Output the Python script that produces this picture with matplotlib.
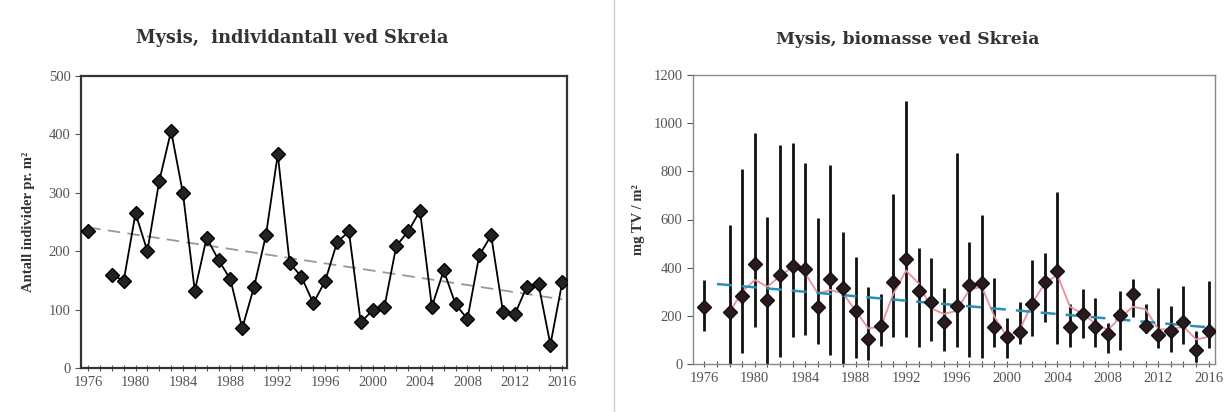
import numpy as np
import matplotlib
matplotlib.use("Agg")
import matplotlib.pyplot as plt
from matplotlib.lines import Line2D

# ---------------------------------------------------------
# Data
# ---------------------------------------------------------
years = np.arange(1976, 2017)

# individuals per m2 (1977 missing)
antall = [234, np.nan, 160, 149, 265, 200, 320, 406, 299, 132,
          223, 185, 152, 68, 139, 227, 366, 180, 156, 111,
          149, 215, 234, 78, 99, 105, 209, 234, 269, 105,
          167, 109, 84, 193, 227, 96, 92, 139, 143, 40, 147]

# biomass mg TV / m2, with low / high range (1977 missing)
biomasse = [235, np.nan, 215, 284, 415, 266, 370, 407, 396, 238,
            353, 317, 221, 102, 159, 339, 436, 304, 256, 176,
            241, 328, 338, 155, 111, 131, 249, 342, 386, 155,
            208, 152, 125, 203, 289, 159, 119, 138, 176, 58, 137]
bio_low = [138, np.nan, 0, 44, 155, 0, 30, 113, 120, 83,
           37, 0, 24, 17, 75, 113, 113, 72, 95, 55,
           69, 30, 24, 69, 26, 83, 116, 173, 83, 72,
           109, 69, 44, 58, 197, 127, 65, 48, 83, 10, 65]
bio_high = [350, np.nan, 577, 810, 960, 612, 909, 916, 833, 605,
            826, 549, 446, 321, 289, 706, 1093, 480, 439, 314,
            875, 508, 619, 356, 190, 259, 432, 460, 716, 249,
            311, 273, 169, 304, 352, 249, 314, 242, 324, 138, 346]

# pink smoothed series (starts 1978)
glatt = [np.nan, np.nan, 215, 300, 349, 321, 365, 404, 376, 293,
         307, 293, 221, 148, 155, 293, 388, 335, 231, 208,
         221, 307, 321, 197, 113, 141, 252, 335, 370, 238,
         208, 169, 141, 194, 238, 227, 144, 144, 155, 102, 113]

antall = np.array(antall, dtype=float)
biomasse = np.array(biomasse, dtype=float)
bio_low = np.array(bio_low, dtype=float)
bio_high = np.array(bio_high, dtype=float)
glatt = np.array(glatt, dtype=float)

serif = ["Liberation Serif", "DejaVu Serif"]
title_font = ["DejaVu Serif"]
plt.rcParams["font.family"] = serif

fig = plt.figure(figsize=(12.28, 4.12), dpi=100)
fig.add_artist(Line2D([0.5, 0.5], [0.0, 1.0], color="#cccccc", lw=1.0))

def style_axis(ax, xlim, spine_col, spine_lw):
    ax.set_xlim(*xlim)
    ax.set_xticks(np.arange(1976, 2017, 4))
    ax.set_xticks(years, minor=True)
    ax.tick_params(axis="x", which="both", direction="inout", length=5,
                   width=0.8, color="#555555", labelsize=10.5, labelcolor="#555555", pad=3)
    ax.tick_params(axis="y", which="major", direction="out", length=4,
                   width=0.8, color="#555555", labelsize=10.5, labelcolor="#555555")
    for s in ax.spines.values():
        s.set_color(spine_col)
        s.set_linewidth(spine_lw)

# ------------------------------
# Left: number of individuals
# ------------------------------
ax1 = fig.add_axes([81 / 1228, 44 / 412, 486 / 1228, 292 / 412])
ax1.plot(years, antall, color="black", lw=1.3, marker="D", ms=7,
         mfc="#222222", mec="black", zorder=3)
ok = ~np.isnan(antall)
k1, m1 = np.polyfit(years[ok], antall[ok], 1)
ax1.plot(years, k1 * years + m1, color="#999999", lw=1.3, ls=(0, (7, 4)), zorder=2)
ax1.set_ylim(0, 500)
ax1.set_yticks(range(0, 501, 100))
style_axis(ax1, (1975.4, 2016.4), "#333333", 1.6)
ax1.set_ylabel("Antall individer pr. m²", fontsize=10.5, fontweight="bold",
               color="#333333", labelpad=10)
fig.text(292 / 1228, 1 - 38 / 412, "Mysis,  individantall ved Skreia", fontsize=12.8,
         family=title_font, fontweight="bold", color="#333333", ha="center", va="center")

# ------------------------------
# Right: biomass
# ------------------------------
ax2 = fig.add_axes([693 / 1228, 48 / 412, 522 / 1228, 289 / 412])
okb = ~np.isnan(biomasse)
ax2.vlines(years[okb], bio_low[okb], bio_high[okb], color="#111111", lw=2.0, zorder=2)
ax2.plot(years, glatt, color="#e8909c", lw=1.3, zorder=3)
k2, m2 = np.polyfit(years[okb], biomasse[okb], 1)
tr_x = years[1:]
ax2.plot(tr_x, k2 * tr_x + m2, color="#2a8fb5", lw=1.8, ls=(0, (6, 4)), zorder=3)
ax2.plot(years, biomasse, ls="none", marker="D", ms=7, mfc="#2a1a1e",
         mec="#111111", zorder=4)
ax2.set_ylim(0, 1200)
ax2.set_yticks(range(0, 1201, 200))
style_axis(ax2, (1975.1, 2016.5), "#888888", 1.0)
ax2.set_ylabel("mg TV / m²", fontsize=10.5, fontweight="bold",
               color="#333333", labelpad=6)
fig.text(908 / 1228, 1 - 40 / 412, "Mysis, biomasse ved Skreia", fontsize=12.3,
         family=title_font, fontweight="bold", color="#333333", ha="center", va="center")

fig.savefig("out.png", dpi=100, facecolor="white")
